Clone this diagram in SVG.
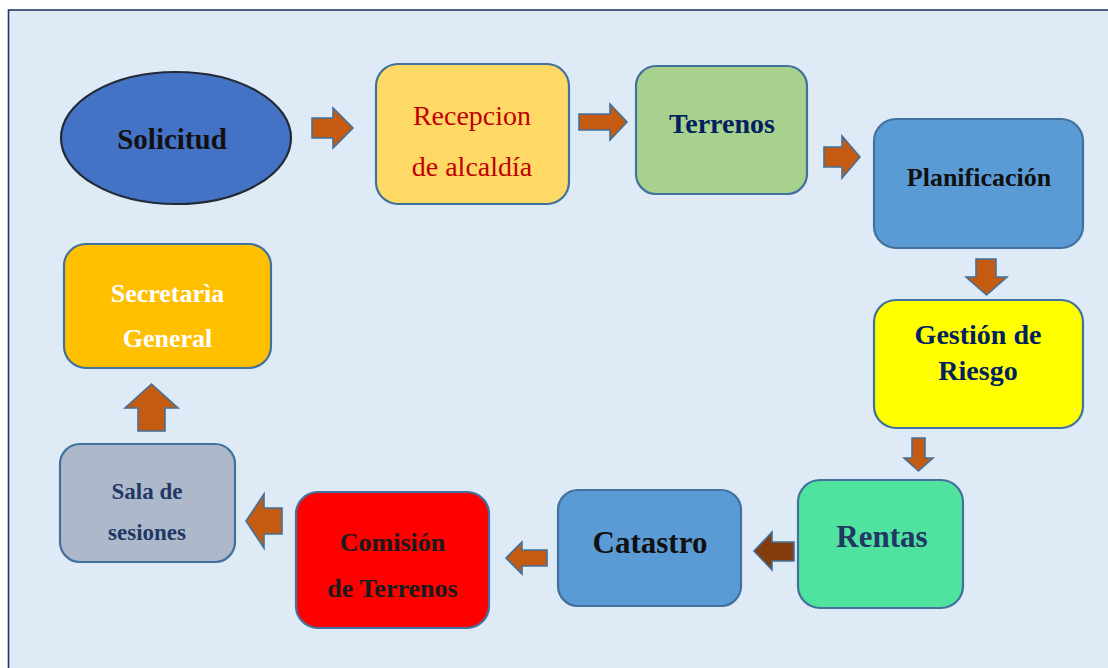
<svg xmlns="http://www.w3.org/2000/svg" width="1108" height="668" viewBox="0 0 1108 668">
<style>
.box{stroke:#41719c;stroke-width:2.2}
.arr{fill:#c55a11;stroke:#41719c;stroke-width:1.6;stroke-linejoin:miter}
.t{font-family:"Liberation Serif","Times New Roman",serif;font-weight:bold;text-anchor:middle}
</style>
<rect x="0" y="0" width="1108" height="668" fill="#ffffff"/>
<rect x="8.5" y="10" width="1110" height="670" fill="#deebf7" stroke="#1f3864" stroke-width="1.6"/>
<g id="connectors">
<polygon class="arr" points="312,118 333,118 333,108 353,128 333,148 333,138 312,138"/>
<polygon class="arr" points="579,114 610,114 610,104 627,122 610,140 610,130 579,130"/>
<polygon class="arr" points="824,147 842,147 842,136 860,157 842,178 842,167 824,167"/>
<polygon class="arr" points="976,259 996,259 996,277 1007,277 986.5,295 966,277 976,277"/>
<polygon class="arr" points="912,438 925,438 925,458 933,458 918.5,471 904,458 912,458"/>
<polygon class="arr" style="fill:#843c0c" points="794,542 772,542 772,532 754,551 772,570 772,561 794,561"/>
<polygon class="arr" points="547,550 522,550 522,542 506,558 522,574 522,566 547,566"/>
<polygon class="arr" points="282,508 264,508 264,494 246,521 264,548 264,534 282,534"/>
<polygon class="arr" points="138,431 138,408 125,408 151.5,384 178,408 165,408 165,431"/>
</g>
<g id="solicitud">
<ellipse cx="176" cy="138" rx="115" ry="66" fill="#4472c4" stroke="#222a35" stroke-width="2.2"/>
<text class="t" x="172" y="149" font-size="29" fill="#111111">Solicitud</text>
</g>
<g id="recepcion">
<rect class="box" x="376" y="64" width="193" height="140" rx="22" fill="#ffd966"/>
<text x="472" y="125" font-size="28" fill="#c00000" text-anchor="middle" font-family="Liberation Serif, Times New Roman, serif">Recepcion</text>
<text x="472" y="176" font-size="28" fill="#c00000" text-anchor="middle" font-family="Liberation Serif, Times New Roman, serif">de alcaldía</text>
</g>
<g id="terrenos">
<rect class="box" x="636" y="66" width="171" height="128" rx="20" fill="#a9d18e"/>
<text class="t" x="722" y="133" font-size="28" fill="#002060">Terrenos</text>
</g>
<g id="planificacion">
<rect class="box" x="874" y="119" width="209" height="129" rx="22" fill="#5b9bd5"/>
<text class="t" x="979" y="186" font-size="26" fill="#111111">Planificación</text>
</g>
<g id="gestion">
<rect class="box" x="874" y="300" width="209" height="128" rx="22" fill="#ffff00"/>
<text class="t" x="978" y="344" font-size="28" fill="#002060">Gestión de</text>
<text class="t" x="978" y="380" font-size="28" fill="#002060">Riesgo</text>
</g>
<g id="rentas">
<rect class="box" x="798" y="480" width="165" height="128" rx="22" fill="#50e3a0"/>
<text class="t" x="882" y="547" font-size="31" fill="#1f3864">Rentas</text>
</g>
<g id="catastro">
<rect class="box" x="558" y="490" width="183" height="116" rx="20" fill="#5b9bd5"/>
<text class="t" x="650" y="553" font-size="31" fill="#111111">Catastro</text>
</g>
<g id="comision">
<rect class="box" x="296" y="492" width="193" height="136" rx="22" fill="#ff0000"/>
<text class="t" x="392.5" y="551" font-size="26" fill="#1a1a1a">Comisión</text>
<text class="t" x="392.5" y="597" font-size="26" fill="#1a1a1a">de Terrenos</text>
</g>
<g id="sala">
<rect class="box" x="60" y="444" width="175" height="118" rx="20" fill="#adb9ca"/>
<text class="t" x="147" y="499" font-size="23" fill="#1f3864">Sala de</text>
<text class="t" x="147" y="540" font-size="23" fill="#1f3864">sesiones</text>
</g>
<g id="secretaria">
<rect class="box" x="64" y="244" width="207" height="124" rx="22" fill="#ffc000"/>
<text class="t" x="167.5" y="302" font-size="26" fill="#ffffff">Secretarìa</text>
<text class="t" x="167.5" y="347" font-size="26" fill="#ffffff">General</text>
</g>
</svg>
